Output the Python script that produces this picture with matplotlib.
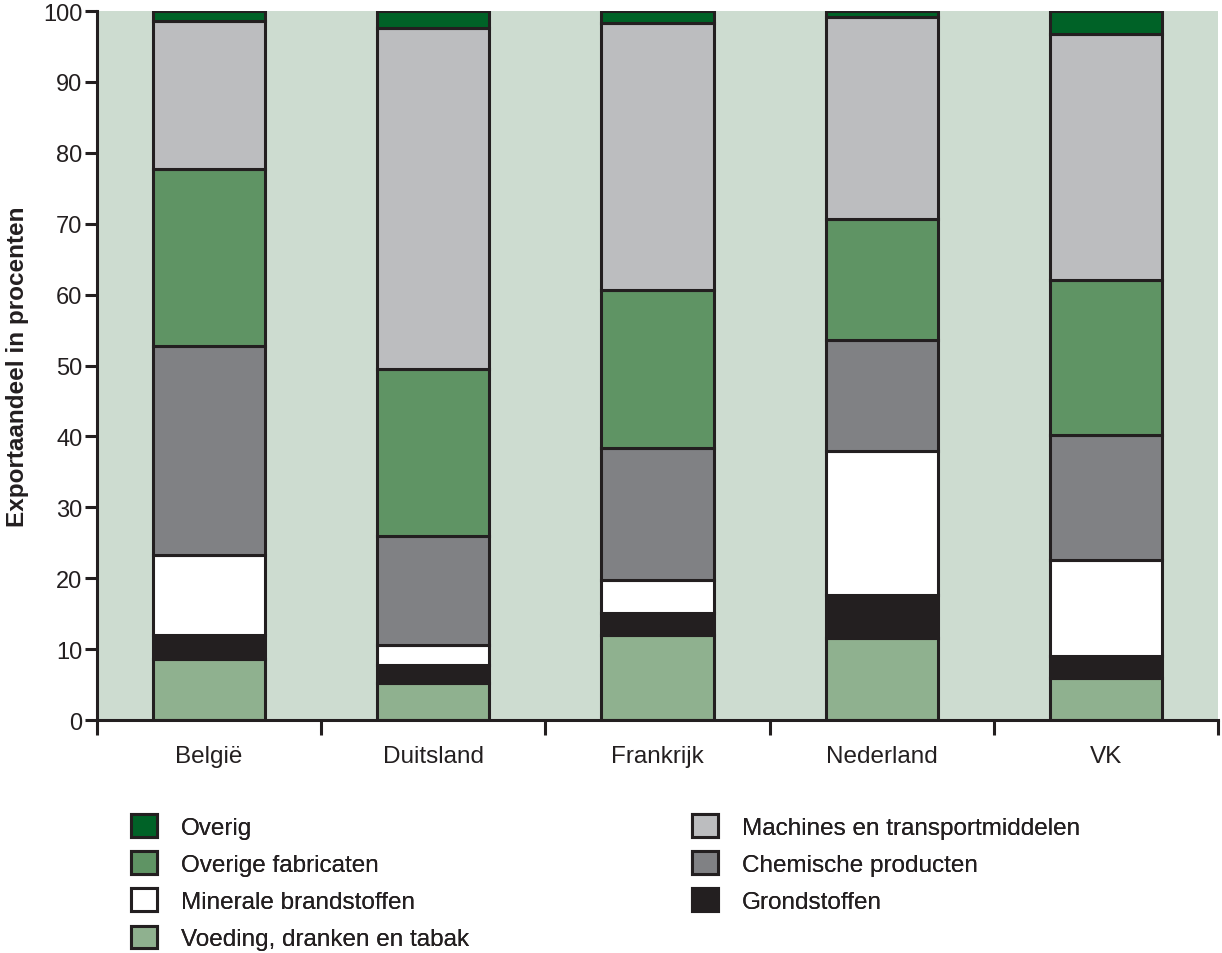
import numpy as np
import matplotlib.pyplot as plt
from matplotlib.patches import Patch

plt.rcParams['font.family'] = ['Liberation Sans', 'DejaVu Sans']

landen = ['België', 'Duitsland', 'Frankrijk', 'Nederland', 'VK']

# aandelen per productgroep (procent), van onder naar boven gestapeld
voeding = [8.6, 5.2, 12.0, 11.6, 5.9]
grondstoffen = [3.4, 2.6, 3.1, 6.0, 3.1]
minerale = [11.3, 2.8, 4.6, 20.3, 13.6]
chemische = [29.4, 15.4, 18.7, 15.7, 17.6]
overige_fab = [25.0, 23.5, 22.2, 17.1, 21.9]
machines = [20.9, 48.1, 37.7, 28.5, 34.7]
overig = [1.4, 2.4, 1.7, 0.8, 3.2]

reeksen = [
    ('Voeding, dranken en tabak', voeding, '#8fb18f'),
    ('Grondstoffen', grondstoffen, '#231f20'),
    ('Minerale brandstoffen', minerale, '#ffffff'),
    ('Chemische producten', chemische, '#808184'),
    ('Overige fabricaten', overige_fab, '#5f9464'),
    ('Machines en transportmiddelen', machines, '#bcbdbf'),
    ('Overig', overig, '#006227'),
]

zwart = '#231f20'
fig = plt.figure(figsize=(12.22, 9.54), dpi=100)
ax = fig.add_axes([0.0794, 0.2442, 0.9173, 0.7432])
ax.set_facecolor('#cddcd0')

x = np.arange(len(landen))
onder = np.zeros(len(landen))
for naam, waarden, kleur in reeksen:
    ax.bar(x, waarden, width=0.5, bottom=onder, color=kleur,
           edgecolor=zwart, linewidth=2.2, zorder=3)
    onder += np.array(waarden)

ax.set_xlim(-0.5, 4.5)
ax.set_ylim(0, 100)
ax.set_yticks(np.arange(0, 101, 10))
ax.tick_params(axis='y', length=8.5, width=2.2, color=zwart, labelsize=17,
               labelcolor=zwart, pad=2)
ax.set_xticks(np.arange(-0.5, 5, 1))
ax.set_xticklabels([])
ax.set_xticks(x, minor=True)
ax.set_xticklabels(landen, minor=True)
ax.tick_params(axis='x', which='major', length=11, width=2.2, color=zwart)
ax.tick_params(axis='x', which='minor', length=0, labelsize=17.5,
               labelcolor=zwart, pad=18)

for s in ['top', 'right']:
    ax.spines[s].set_visible(False)
for s in ['left', 'bottom']:
    ax.spines[s].set_linewidth(2.2)
    ax.spines[s].set_color(zwart)
    ax.spines[s].set_zorder(4)

ax.set_ylabel('Exportaandeel in procenten', fontsize=17.5, fontweight='bold',
              color=zwart, labelpad=10)

kleuren = {naam: kleur for naam, _, kleur in reeksen}
kolommen = [
    (['Overig', 'Overige fabricaten', 'Minerale brandstoffen',
      'Voeding, dranken en tabak'], 0.1072),
    (['Machines en transportmiddelen', 'Chemische producten',
      'Grondstoffen'], 0.5663),
]
for namen, xpos in kolommen:
    handles = [Patch(facecolor=kleuren[n], edgecolor=zwart, linewidth=2.2,
                     label=n) for n in namen]
    leg = fig.legend(handles=handles, loc='upper left',
                     bbox_to_anchor=(xpos, 0.1457), frameon=False,
                     fontsize=17.5, borderpad=0, borderaxespad=0,
                     handlelength=1.05, handleheight=1.05, handletextpad=1.0,
                     labelspacing=0.52, labelcolor=zwart)
    fig.add_artist(leg)

fig.savefig('out.png', dpi=100)
